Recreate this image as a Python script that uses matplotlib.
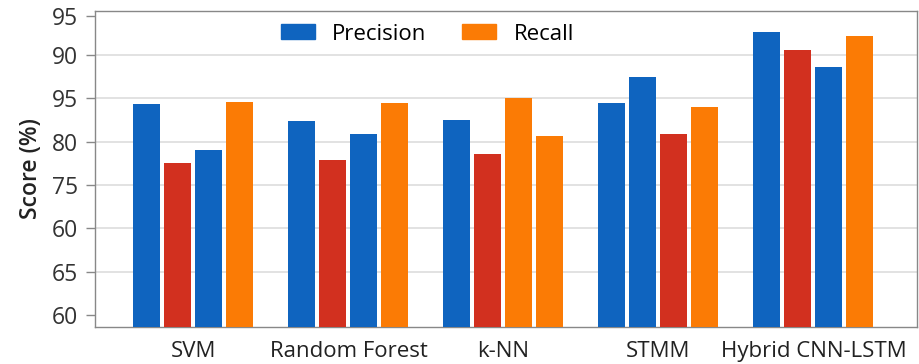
import matplotlib
matplotlib.use("Agg")
import matplotlib.pyplot as plt
import numpy as np
from matplotlib.patches import Patch

plt.rcParams['font.family'] = ['Open Sans', 'DejaVu Sans']

categories = ["SVM", "Random Forest", "k-NN", "STMM", "Hybrid CNN-LSTM"]
# four bars per group, left to right
bar_values = [
    [84.3, 77.5, 79.0, 84.6],
    [82.4, 77.9, 80.9, 84.4],
    [82.5, 78.6, 85.0, 80.6],
    [84.5, 87.4, 80.9, 84.0],
    [92.6, 90.6, 88.6, 92.2],
]
bar_kinds = [
    ["blue", "red", "blue", "orange"],
    ["blue", "red", "blue", "orange"],
    ["blue", "red", "orange", "orange"],
    ["blue", "blue", "red", "orange"],
    ["blue", "red", "blue", "orange"],
]
ytick_values = [60, 65, 70, 75, 80, 85, 90, 94.5]
ytick_labels = ["60", "65", "60", "75", "80", "95", "90", "95"]
legend_labels = ["Precision", "Recall"]

colors = {"blue": "#0f64bf", "red": "#d2301f", "orange": "#fb7b05"}

fig = plt.figure(figsize=(9.19, 3.64), dpi=100)
ax = fig.add_axes([0.1034, 0.1025, 0.8944, 0.8681])

x = np.arange(len(categories))
offsets = [-0.3, -0.1, 0.1, 0.3]
width = 0.174
for i, (vals, kinds) in enumerate(zip(bar_values, bar_kinds)):
    for j, (v, k) in enumerate(zip(vals, kinds)):
        ax.bar(x[i] + offsets[j], v, width=width, color=colors[k], zorder=3)

ax.set_xlim(-0.635, 4.668)
ax.set_ylim(58.65, 95.1)
ax.set_xticks(x)
ax.set_xticklabels(categories, fontsize=16, color="#222222")
ax.set_yticks(ytick_values)
ax.set_yticklabels(ytick_labels, fontsize=16.5, color="#333333")
ax.tick_params(axis='x', length=0, pad=10)
ax.tick_params(axis='y', length=6.5, width=1, color="#888888", pad=6)
ax.set_ylabel("Score (%)", fontsize=16.5, fontweight='semibold', color="#222222", labelpad=6)

for yv in ytick_values[1:-1]:
    ax.axhline(yv, color="#dddddd", linewidth=1.2, zorder=1)

for s in ax.spines.values():
    s.set_color("#888888")
    s.set_linewidth(1.0)

handles = [Patch(color=colors["blue"]), Patch(color=colors["orange"])]
ax.legend(handles, legend_labels, loc='center', bbox_to_anchor=(0.4045, 0.926),
          ncol=2, frameon=False, fontsize=16, handlelength=1.53, handleheight=0.63,
          columnspacing=1.6, handletextpad=0.8)

fig.savefig("out.png", dpi=100)
